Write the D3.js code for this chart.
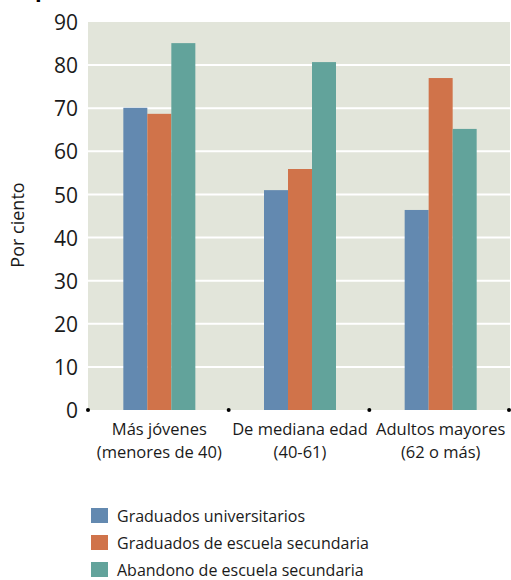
<!DOCTYPE html>
<html><head><meta charset="utf-8">
<script src="https://cdn.jsdelivr.net/npm/d3@7"></script>
<style>body{margin:0;background:#fff;} svg{display:block;font-family:"Open Sans",sans-serif;}</style>
</head><body>
<div id="chart"></div>
<script>
const categories = [["Más jóvenes","(menores de 40)"],["De mediana edad","(40-61)"],["Adultos mayores","(62 o más)"]];
const seriesNames = ["Graduados universitarios","Graduados de escuela secundaria","Abandono de escuela secundaria"];
const universitarios = [70.1, 51.0, 46.4];
const secundaria = [68.7, 55.9, 77.0];
const abandono = [85.1, 80.7, 65.2];
const yTicks = [0,10,20,30,40,50,60,70,80,90];
const colors = ["#6389b0","#d0734a","#62a39b"];
const series = [universitarios, secundaria, abandono];

const W = 511, H = 580;
const m = {left: 88, right: 1, top: 22, bottom: 170};
const svg = d3.select("#chart").append("svg").attr("width", W).attr("height", H);

const x = d3.scaleBand().domain(d3.range(categories.length)).range([m.left, W - m.right]).paddingInner(0).paddingOuter(0);
const xs = d3.scaleBand().domain(d3.range(series.length)).range([0, 72]);
const y = d3.scaleLinear().domain([0, 90]).range([H - m.bottom, m.top]);

// title fragment (cropped at the top edge, as in the reference)
svg.append("text").attr("x", 35).attr("y", -3).attr("font-size", 22).attr("font-weight", "bold").text("p");

svg.append("rect").attr("x", m.left).attr("y", m.top).attr("width", W - m.right - m.left).attr("height", y(0) - m.top).attr("fill", "#e2e5da");

svg.append("g").selectAll("line").data(yTicks.filter(d => d > 0 && d < 90)).join("line")
  .attr("x1", m.left).attr("x2", W - m.right)
  .attr("y1", d => y(d)).attr("y2", d => y(d))
  .attr("stroke", "#fff").attr("stroke-width", 2);

const g = svg.append("g").selectAll("g").data(categories).join("g")
  .attr("transform", (d, i) => `translate(${x(i) + x.bandwidth()/2 - 36 + 1},0)`);
g.selectAll("rect").data((d, i) => series.map((s, k) => ({k, v: s[i]}))).join("rect")
  .attr("x", d => xs(d.k)).attr("width", xs.bandwidth())
  .attr("y", d => y(d.v)).attr("height", d => y(0) - y(d.v))
  .attr("fill", d => colors[d.k]);

const yAxis = d3.axisLeft(y).tickValues(yTicks).tickSize(0).tickPadding(10);
const ya = svg.append("g").attr("transform", `translate(${m.left},0)`).call(yAxis);
ya.select(".domain").remove();
ya.selectAll("text").attr("font-size", 21).attr("fill", "#1a1a1a").attr("font-family", "Open Sans").attr("dy", "0.36em");

// boundary dots
svg.append("g").selectAll("circle").data(d3.range(categories.length + 1)).join("circle")
  .attr("cx", i => i < categories.length ? x(i) : x(categories.length - 1) + x.bandwidth() - 1)
  .attr("cy", y(0)).attr("r", 2).attr("fill", "#000");

// x labels
const xl = svg.append("g").selectAll("text").data(categories).join("text")
  .attr("x", (d, i) => x(i) + x.bandwidth()/2 + 1)
  .attr("y", y(0) + 25)
  .attr("text-anchor", "middle").attr("font-size", 16.5).attr("fill", "#1a1a1a");
xl.selectAll("tspan").data(d => d).join("tspan")
  .attr("x", function(){ return this.parentNode.getAttribute("x"); })
  .attr("dy", (d, j) => j === 0 ? 0 : 23).text(d => d);

svg.append("text").attr("transform", `translate(24,${225}) rotate(-90)`)
  .attr("text-anchor", "middle").attr("font-size", 18).attr("fill", "#1a1a1a").text("Por ciento");

const lg = svg.append("g").selectAll("g").data(seriesNames).join("g")
  .attr("transform", (d, i) => `translate(91,${508 + i * 27})`);
lg.append("rect").attr("width", 17).attr("height", 15).attr("fill", (d, i) => colors[i]);
lg.append("text").attr("x", 26).attr("y", 14).attr("font-size", 16).attr("fill", "#1a1a1a").text(d => d);
</script>
</body></html>
